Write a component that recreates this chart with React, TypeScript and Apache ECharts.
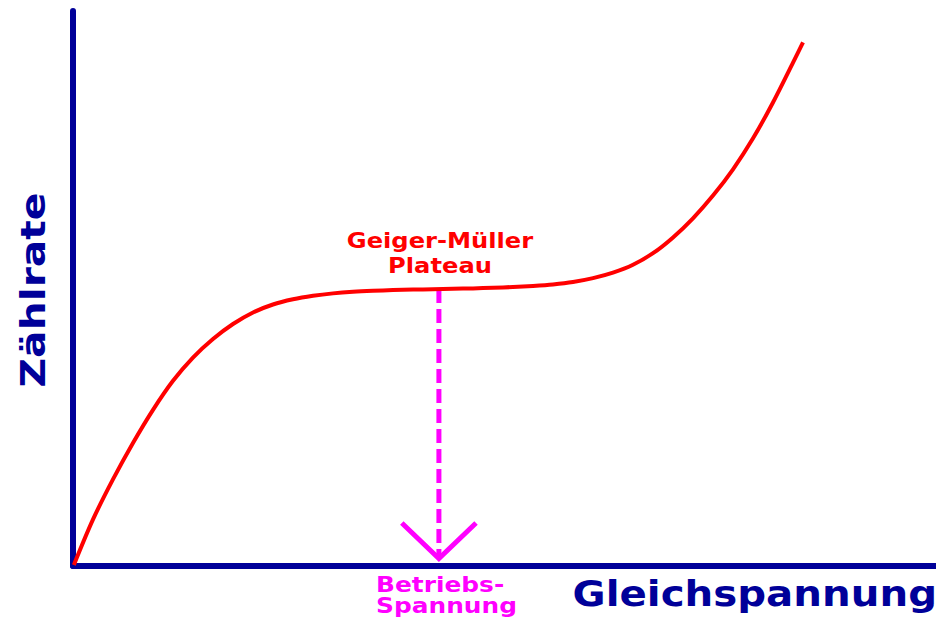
import React, { useEffect, useRef } from "react";
import * as echarts from "echarts";

// Geiger-Müller counting curve (arbitrary units, 0..100)
const voltage = [0.1, 2.32, 4.63, 6.95, 9.27, 11.59, 13.9, 16.22, 18.54, 20.86, 23.17, 25.49, 27.81, 30.13, 32.44, 34.76, 37.08, 39.4, 41.71, 44.03, 46.35, 48.67, 50.98, 53.3, 55.62, 57.94, 60.26, 62.57, 64.89, 67.21, 69.53, 71.84, 74.16, 76.48, 78.8, 81.11, 83.43, 84.59];
const countRate = [0.2, 8.4, 15.6, 22.16, 28.14, 33.37, 37.55, 40.9, 43.6, 45.68, 47.12, 48.05, 48.68, 49.12, 49.41, 49.59, 49.71, 49.8, 49.87, 49.95, 50.02, 50.13, 50.27, 50.47, 50.74, 51.17, 51.86, 52.85, 54.27, 56.36, 59.21, 62.65, 66.74, 71.48, 77.06, 83.51, 90.68, 94.36];

// operating voltage marker
const operatingVoltage = 42.4;
const plateauRate = 49.9;
const markerBottom = 1.6;
const arrowX = [38.1, 42.4, 46.7];
const arrowY = [7.75, 1.35, 7.75];

const axisName = { x: "Gleichspannung", y: "Zählrate" };
const plateauLabel = ["Geiger-Müller", "Plateau"];
const operatingLabel = ["Betriebs-", "Spannung"];

const BLUE = "#000099";
const RED = "#ff0000";
const MAGENTA = "#ff00ff";
const FONT = '"DejaVu Sans", Verdana, sans-serif';

export default function App() {
  const ref = useRef<HTMLDivElement>(null);
  useEffect(() => {
    if (!ref.current) return;
    const chart = echarts.init(ref.current, null, { renderer: "svg" });
    const curve = voltage.map((v, i) => [v, countRate[i]]);
    const arrow = arrowX.map((v, i) => [v, arrowY[i]]);
    const txt = (
      text: string,
      x: number,
      y: number,
      size: number,
      fill: string,
      align: string,
      scaleX: number,
      rotation = 0
    ) => ({
      type: "text",
      x,
      y,
      rotation,
      scaleX,
      z: 10,
      style: {
        text,
        fill,
        fontFamily: FONT,
        fontWeight: "bold",
        fontSize: size,
        align,
        verticalAlign: "middle",
      },
    });
    chart.setOption({
      animation: false,
      backgroundColor: "#ffffff",
      grid: { left: 73, right: 0, top: 11, bottom: 55, containLabel: false },
      xAxis: {
        type: "value",
        min: 0,
        max: 100,
        axisLine: { show: true, onZero: false, lineStyle: { color: BLUE, width: 6 } },
        axisTick: { show: false },
        axisLabel: { show: false },
        splitLine: { show: false },
      },
      yAxis: {
        type: "value",
        min: 0,
        max: 100,
        axisLine: { show: true, onZero: false, lineStyle: { color: BLUE, width: 6 } },
        axisTick: { show: false },
        axisLabel: { show: false },
        splitLine: { show: false },
      },
      series: [
        {
          type: "line",
          data: [
            [operatingVoltage, plateauRate],
            [operatingVoltage, markerBottom],
          ],
          showSymbol: false,
          symbol: "none",
          lineStyle: { color: MAGENTA, width: 5, type: [14, 6] },
          z: 3,
        },
        {
          type: "line",
          data: arrow,
          showSymbol: false,
          symbol: "none",
          lineStyle: { color: MAGENTA, width: 5, join: "miter" },
          z: 3,
        },
        {
          type: "line",
          data: curve,
          smooth: 0.3,
          showSymbol: false,
          symbol: "none",
          lineStyle: { color: RED, width: 4, join: "round" },
          z: 4,
        },
      ],
      graphic: [
        txt(axisName.y, 33, 290, 34, BLUE, "center", 1.2, Math.PI / 2),
        txt(axisName.x, 937, 594, 36, BLUE, "right", 1.12),
        txt(plateauLabel[0], 440, 240.3, 22, RED, "center", 1.1),
        txt(plateauLabel[1], 440, 265.3, 22, RED, "center", 1.1),
        txt(operatingLabel[0], 376, 584.3, 22, MAGENTA, "left", 1.13),
        txt(operatingLabel[1], 376, 605.3, 22, MAGENTA, "left", 1.13),
      ],
    });
    return () => chart.dispose();
  }, []);
  return (
    <div
      ref={ref}
      style={{ position: "fixed", left: 0, top: 0, width: 936, height: 621, background: "#fff" }}
    />
  );
}
